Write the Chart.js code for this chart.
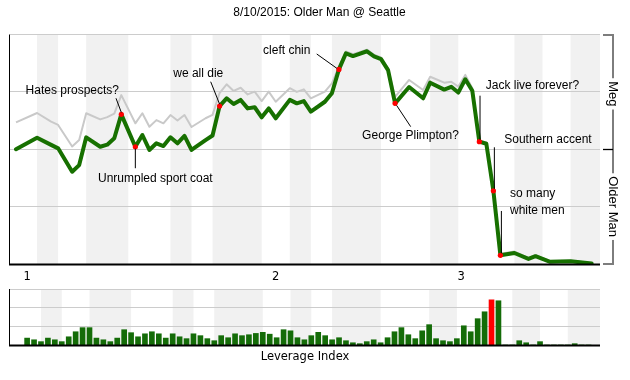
<!DOCTYPE html>
<html><head><meta charset="utf-8">
<script src="https://cdn.jsdelivr.net/npm/chart.js@4.4.1/dist/chart.umd.min.js"></script>
<style>
html,body{margin:0;padding:0;background:#fff;}
#wrap{position:relative;width:630px;height:380px;overflow:hidden;background:#fff;}
canvas{position:absolute;left:0;}
#main{top:0;}
#lev{top:285px;}
</style></head><body>
<div id="wrap"><canvas id="main" width="630" height="285"></canvas><canvas id="lev" width="630" height="95"></canvas></div>
<script>
// ---------- data ----------
const chartTitle = '8/10/2015: Older Man @ Seattle';
const topTeam = 'Meg';
const bottomTeam = 'Older Man';

// play numbers of the line's vertices (0 = game start)
const wePlays = [0,3,5,6,8,9,10,12,13,14,15,17,18,19,20,21,22,23,24,25,27,28,29,30,31,32,33,34,35,36,37,39,40,41,42,44,45,46,47,48,50,51,52,53,54,56,58,59,61,62,63,64,65,66,67,68,69,71,73,74,76,79,82];
// win expectancy (green line)
const weMain = [0.500,0.550,0.519,0.504,0.402,0.431,0.552,0.511,0.520,0.548,0.652,0.511,0.562,0.497,0.526,0.514,0.552,0.526,0.558,0.497,0.540,0.560,0.688,0.722,0.697,0.715,0.678,0.683,0.639,0.678,0.635,0.715,0.700,0.710,0.664,0.707,0.744,0.848,0.918,0.906,0.927,0.905,0.893,0.845,0.700,0.771,0.722,0.790,0.760,0.772,0.747,0.805,0.755,0.533,0.524,0.319,0.038,0.048,0.022,0.034,0.010,0.012,0.002];
// second (gray) line
const weAlt = [0.617,0.658,0.620,0.606,0.512,0.540,0.657,0.630,0.640,0.655,0.736,0.613,0.657,0.598,0.627,0.613,0.649,0.625,0.649,0.597,0.635,0.650,0.745,0.783,0.754,0.768,0.739,0.751,0.710,0.751,0.707,0.766,0.750,0.761,0.722,0.751,0.787,0.860,0.926,0.914,0.934,0.912,0.900,0.852,0.728,0.802,0.758,0.816,0.790,0.794,0.773,0.824,0.766,0.538,0.530,0.324,0.045,0.054,0.027,0.038,0.013,0.014,0.004];

// leverage index per play (index = play number)
const leverage = [0,
  0.37,0.28,0.18,0.37,0.28,0.18,0.44,0.71,0.93,0.93,
  0.37,0.28,0.18,0.37,0.82,0.66,0.44,0.60,0.71,0.60,
  0.37,0.60,0.44,0.34,0.60,0.50,0.34,0.23,0.50,0.39,
  0.60,0.50,0.55,0.62,0.68,0.58,0.39,0.82,0.76,0.39,
  0.28,0.50,0.68,0.50,0.28,0.39,0.23,0.12,0.07,0.18,
  0.28,0.12,0.39,0.71,0.93,0.55,0.34,0.76,1.09,0.34,
  0.23,0.18,0.34,1.03,0.71,1.41,1.78,2.42,2.37,0,
  0,0.23,0.12,0,0.18,0,0,0,0,0.07,
  0,0];

// first play of each half inning
const halfInningStarts = [0,3,6,10,16,22,25,28,35,39,42,45,52,59,63,71,75,79];
const inningTickLabels = ['1','2','3'];
const inningTickPlays = [1.6, 37, 63.4];
const leverageGrid = [1,2,3];
const weGrid = [0.25,0.5,0.75,1];

const notePlays = [15,17,29,46,54,66,68,69];
const noteTexts = ['Hates prospects?','Unrumpled sport coat','we all die','cleft chin','George Plimpton?','Jack live forever?','Southern accent','so many\nwhite men'];

// ---------- layout (pixels relative to each note's dot) ----------
const noteLayout = [
  {dx:-49, dy:-20.8, align:'center', lead:[-5.3,-16.1,0,-2]},
  {dx:20, dy:35.3, align:'center', lead:[0,2,0,21.5]},
  {dx:-21.3, dy:-29.1, align:'center', lead:[-8.9,-24.4,0,-2]},
  {dx:-52.2, dy:-15.4, align:'center', lead:[-22.2,-15.4,-2,-1]},
  {dx:15.4, dy:35.2, align:'center', lead:[1.5,2,15.6,23.3]},
  {dx:6.4, dy:-52.4, align:'left', lead:[0.7,-46,0.7,-2]},
  {dx:10.9, dy:-48.2, align:'left', lead:[1,-43.5,1,-2]},
  {dx:9.6, dy:-57.8, align:'left', lead:[1,-44.3,1,-2]}
];

const GREEN = '#177000';
const BAR_GREEN = '#146c08';
const RED = '#ff0000';
const BAND = '#f1f1f1';
const GRID = '#cccccc';
const SANS = '"Liberation Sans", Arial, sans-serif';
const DEJA = '"DejaVu Sans", Verdana, sans-serif';

const greenPts = wePlays.map((p,i)=>({x:p, y:weMain[i]}));
const grayPts = wePlays.map((p,i)=>({x:p, y:weAlt[i]}));
const dotPts = notePlays.map(p=>({x:p, y:weMain[wePlays.indexOf(p)]}));

function drawBands(chart){
  const {ctx, chartArea:a, scales:{x}} = chart;
  ctx.save();
  ctx.fillStyle = BAND;
  for (let k=1; k<halfInningStarts.length; k+=2){
    const x0 = x.getPixelForValue(halfInningStarts[k]);
    const x1 = k+1<halfInningStarts.length ? x.getPixelForValue(halfInningStarts[k+1]) : a.right;
    ctx.fillRect(x0, a.top, x1-x0, a.bottom-a.top);
  }
  ctx.restore();
}
function drawGrid(chart, vals){
  const {ctx, chartArea:a, scales:{y}} = chart;
  ctx.save();
  ctx.strokeStyle = GRID; ctx.lineWidth = 1;
  vals.forEach(v=>{
    const py = Math.floor(y.getPixelForValue(v))+0.5;
    ctx.beginPath(); ctx.moveTo(a.left, py); ctx.lineTo(a.right, py); ctx.stroke();
  });
  ctx.restore();
}
function drawAxes(chart){
  const {ctx, chartArea:a} = chart;
  ctx.save();
  ctx.fillStyle = '#000';
  ctx.fillRect(a.left-1, a.top, 1, a.bottom-a.top);
  ctx.fillRect(a.left-1, a.bottom-0.5, a.right-a.left+1, 2);
  ctx.restore();
}

const mainDeco = {
  id:'mainDeco',
  beforeDatasetsDraw(chart){ drawBands(chart); drawGrid(chart, weGrid); },
  afterDatasetsDraw(chart){
    const {ctx, chartArea:a, scales:{x,y}} = chart;
    drawAxes(chart);
    ctx.save();
    // title
    ctx.fillStyle = '#000';
    ctx.font = '12px ' + SANS;
    ctx.textAlign = 'center'; ctx.textBaseline = 'alphabetic';
    ctx.fillText(chartTitle, 319.5, 16);
    // inning labels
    ctx.font = '11.5px ' + DEJA;
    inningTickPlays.forEach((p,i)=>{
      ctx.fillText(inningTickLabels[i], x.getPixelForValue(p), a.bottom+16);
    });
    // notes
    ctx.font = '12px ' + SANS;
    ctx.strokeStyle = '#000'; ctx.lineWidth = 1;
    notePlays.forEach((p,i)=>{
      const L = noteLayout[i];
      const px = x.getPixelForValue(p), py = y.getPixelForValue(dotPts[i].y);
      ctx.beginPath();
      ctx.moveTo(px+L.lead[0], py+L.lead[1]);
      ctx.lineTo(px+L.lead[2], py+L.lead[3]);
      ctx.stroke();
      ctx.textAlign = L.align;
      noteTexts[i].split('\n').forEach((line,k)=>{
        ctx.fillText(line, px+L.dx, py+L.dy+k*17);
      });
    });
    // bracket on the right
    const bx = a.right+13, t0 = a.left;
    const yTop = a.top, yMid = y.getPixelForValue(0.5), yBot = a.bottom;
    ctx.strokeStyle = '#7d7d7d'; ctx.lineWidth = 2;
    ctx.beginPath();
    ctx.moveTo(a.right+3, yTop+0.5); ctx.lineTo(bx, yTop+0.5);
    ctx.lineTo(bx, yBot); ctx.lineTo(a.right+3, yBot);
    ctx.stroke();
    ctx.strokeStyle = '#000'; ctx.lineWidth = 1.3;
    ctx.beginPath(); ctx.moveTo(a.right+3, Math.floor(yMid)+0.5); ctx.lineTo(bx, Math.floor(yMid)+0.5); ctx.stroke();
    ctx.font = '13px ' + SANS;
    [[topTeam, y.getPixelForValue(0.75)+2],[bottomTeam, y.getPixelForValue(0.25)]].forEach(([txt,cy])=>{
      const w = ctx.measureText(txt).width;
      ctx.fillStyle = '#fff';
      ctx.fillRect(bx-4, cy-w/2-3, 8, w+6);
      ctx.save();
      ctx.translate(bx, cy); ctx.rotate(Math.PI/2);
      ctx.fillStyle = '#000'; ctx.textAlign = 'center'; ctx.textBaseline = 'middle';
      ctx.fillText(txt, 0, 0);
      ctx.restore();
    });
    ctx.restore();
  }
};

new Chart(document.getElementById('main'), {
  type:'line',
  data:{datasets:[
    {data:dotPts, showLine:false, pointRadius:2.6, pointBackgroundColor:RED, pointBorderWidth:0, pointHoverRadius:0, order:0},
    {data:greenPts, borderColor:GREEN, borderWidth:4, pointRadius:0, tension:0, borderJoinStyle:'round', borderCapStyle:'round', fill:false, order:1},
    {data:grayPts, borderColor:'#c9c9c9', borderWidth:2, pointRadius:0, tension:0, borderJoinStyle:'round', fill:false, order:2}
  ]},
  options:{
    responsive:false, animation:false, devicePixelRatio:1,
    layout:{padding:{left:10, right:30, top:34.5, bottom:21}},
    plugins:{legend:{display:false}, tooltip:{enabled:false}},
    events:[],
    scales:{
      x:{type:'linear', min:-0.855, max:83.19, display:false},
      y:{type:'linear', min:0, max:1, display:false}
    }
  },
  plugins:[mainDeco]
});

const levDeco = {
  id:'levDeco',
  beforeDatasetsDraw(chart){ drawBands(chart); drawGrid(chart, leverageGrid); },
  afterDatasetsDraw(chart){
    const {ctx, chartArea:a} = chart;
    drawAxes(chart);
    ctx.save();
    ctx.fillStyle = '#000';
    ctx.font = '11.5px ' + DEJA;
    ctx.textAlign = 'center'; ctx.textBaseline = 'alphabetic';
    ctx.fillText('Leverage Index', (a.left+a.right)/2, a.bottom+15);
    ctx.restore();
  }
};

const levPts = leverage.map((v,i)=>({x:i, y:v})).filter(p=>p.x>0);
const maxLev = Math.max(...leverage);
new Chart(document.getElementById('lev'), {
  type:'bar',
  data:{datasets:[{
    data:levPts,
    backgroundColor: levPts.map(p=>p.y===maxLev?RED:BAR_GREEN),
    borderWidth:0, barThickness:5
  }]},
  options:{
    responsive:false, animation:false, devicePixelRatio:1,
    layout:{padding:{left:10, right:30, top:4, bottom:35}},
    plugins:{legend:{display:false}, tooltip:{enabled:false}},
    events:[],
    scales:{
      x:{type:'linear', min:-1.47, max:83.65, display:false, offset:false},
      y:{type:'linear', min:0, max:3, display:false}
    }
  },
  plugins:[levDeco]
});
</script>
</body></html>
